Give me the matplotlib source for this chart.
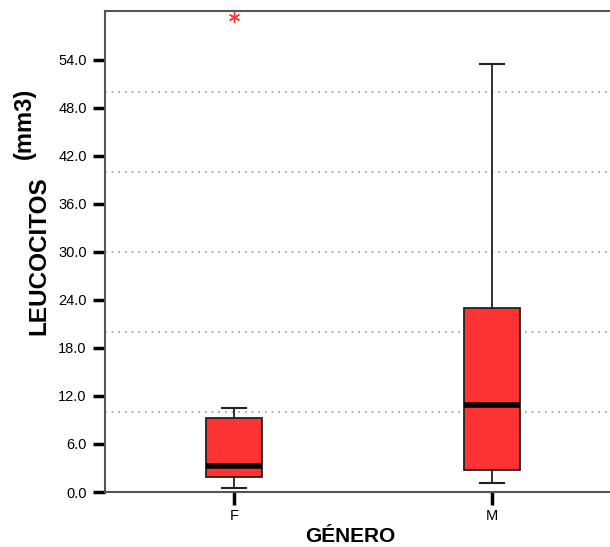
import numpy as np
import matplotlib.pyplot as plt

plt.rcParams['font.family'] = ['Liberation Sans', 'DejaVu Sans']

# box statistics (LEUCOCITOS by GÉNERO)
groups = ['F', 'M']
whislo = [0.5, 1.1]
q1 = [1.9, 2.7]
med = [3.2, 10.9]
q3 = [9.2, 23.0]
whishi = [10.5, 53.5]
outliers = [[59.3], []]

yticks = np.arange(0, 55, 6.0)
gridlines = [10, 20, 30, 40, 50]

stats = []
for i in range(len(groups)):
    stats.append(dict(label=groups[i], whislo=whislo[i], q1=q1[i], med=med[i],
                      q3=q3[i], whishi=whishi[i], fliers=outliers[i]))

W, H = 610, 547
fig = plt.figure(figsize=(W / 100, H / 100), dpi=100)
ax = fig.add_axes([0.172, 0.1005, 0.828, 0.8795])

for g in gridlines:
    ax.axhline(g, color='#999999', lw=1.2, ls=(0, (1, 3)), zorder=0)

ax.bxp(stats, positions=[1, 2], widths=0.215, patch_artist=True,
       boxprops=dict(facecolor='#ff3333', edgecolor='#222222', lw=1.3),
       medianprops=dict(color='black', lw=4, solid_capstyle='butt'),
       whiskerprops=dict(color='#222222', lw=1.3),
       capprops=dict(color='#222222', lw=1.5),
       capwidths=0.09,
       flierprops=dict(marker=(6, 2, 0), markersize=8, markeredgecolor='#ff3333',
                       markeredgewidth=1.0, linestyle='none'))

ax.set_xlim(0.5, 2.457)
ax.set_ylim(0, 60.1)
ax.set_yticks(yticks)
ax.set_yticklabels(['%.1f' % t for t in yticks], fontsize=10.5)
ax.set_xticks([1, 2])
ax.set_xticklabels(groups, fontsize=10.5)
ax.tick_params(axis='both', direction='out', length=9, width=2.5, color='black', pad=3)
ax.tick_params(axis='y', length=9, pad=4)

ax.spines['right'].set_visible(False)
for s in ['left', 'bottom', 'top']:
    ax.spines[s].set_color('#555555')
    ax.spines[s].set_linewidth(1.5)

# axis titles (the unit sits a little off the main label's baseline)
fig.text(45 / W, 1 - 256 / H, 'LEUCOCITOS', rotation=90, rotation_mode='anchor',
         ha='center', va='baseline', fontsize=17.5, fontweight='bold')
fig.text(31 / W, 1 - 123 / H, '(mm3)', rotation=90, rotation_mode='anchor',
         ha='center', va='baseline', fontsize=17, fontweight='bold')
fig.text(350 / W, 1 - 542 / H, 'GÉNERO', ha='center', va='baseline',
         fontsize=15, fontweight='bold')

fig.savefig('out.png', dpi=100)
